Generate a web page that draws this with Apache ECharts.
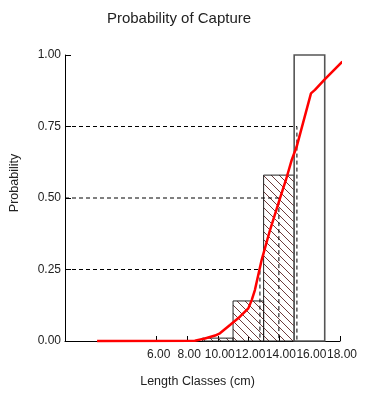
<!DOCTYPE html>
<html>
<head>
<meta charset="utf-8">
<script src="https://cdn.jsdelivr.net/npm/echarts@6/dist/echarts.min.js"></script>
<style>html,body{margin:0;padding:0;background:#fff;}#c{width:367px;height:396px;}</style>
</head>
<body>
<div id="c"></div>
<script>
// Length classes (cm) - histogram bars
var classStart = [9, 11, 13, 15];
var classEnd = [11, 13, 15, 17];
var classProb = [0.01, 0.14, 0.58, 1.00];
var classHatched = [true, true, true, false];

// Probability of capture curve
var curveX = [2.1, 8.5, 9.16, 9.82, 10.14, 10.8, 11.45, 12.0, 12.22, 12.43, 12.87, 13.42, 14.07, 14.46, 14.84, 15.16, 16.1, 16.36, 17.0, 18.15];
var curveP = [0, 0.001, 0.009, 0.019, 0.027, 0.056, 0.085, 0.114, 0.143, 0.178, 0.283, 0.388, 0.499, 0.563, 0.633, 0.679, 0.866, 0.878, 0.915, 0.977];

// L25, L50, L75 reference lines
var refP = [0.25, 0.50, 0.75];
var refL = [12.76, 14.0, 15.18];

var xTickLabels = [6, 8, 10, 12, 14, 16, 18];
var yTickLabels = [0, 0.25, 0.5, 0.75, 1.0];

var cv = document.createElement('canvas');
cv.width = 8; cv.height = 8;
var ctx = cv.getContext('2d');
ctx.strokeStyle = '#6e3c3c';
ctx.lineWidth = 1;
ctx.beginPath();
ctx.moveTo(-1, -1); ctx.lineTo(9, 9);
ctx.stroke();
var hatch = {image: cv, repeat: 'repeat'};

var barData = classStart.map(function (s, i) { return [s, classEnd[i], classProb[i], classHatched[i] ? 1 : 0]; });

var refSeries = refP.map(function (p, i) {
  return {
    type: 'line', silent: true, symbol: 'none', animation: false,
    data: [[0, p], [refL[i], p], [refL[i], 0]],
    lineStyle: {color: '#000', width: 1, type: [4, 3]}
  };
});

var curveData = curveX.map(function (x, i) { return [x, curveP[i]]; });

var chart = echarts.init(document.getElementById('c'));
chart.setOption({
  animation: false,
  title: {
    text: 'Probability of Capture', left: 174, top: 6, textAlign: 'center',
    textStyle: {fontFamily: 'Liberation Sans', fontSize: 15, fontWeight: 'normal', color: '#222'}
  },
  grid: {left: 65, right: 27, top: 55, bottom: 55},
  xAxis: {
    type: 'value', min: 0, max: 18, interval: 2,
    name: 'Length Classes (cm)', nameLocation: 'middle', nameGap: 34,
    nameTextStyle: {fontFamily: 'Liberation Sans', fontSize: 12.5, color: '#222', padding: [0, 10, 0, 0]},
    axisLine: {lineStyle: {color: '#000', width: 1}},
    axisTick: {inside: true, length: 5, lineStyle: {color: '#000'}, customValues: xTickLabels},
    axisLabel: {customValues: xTickLabels, formatter: function (v) { return v.toFixed(2); },
      fontFamily: 'Liberation Sans', fontSize: 12, color: '#222', margin: 8, padding: [0, 0, 0, 4]},
    splitLine: {show: false}
  },
  yAxis: {
    type: 'value', min: 0, max: 1, interval: 0.25,
    name: 'Probability', nameLocation: 'middle', nameGap: 44, nameRotate: 90,
    nameTextStyle: {fontFamily: 'Liberation Sans', fontSize: 12.5, color: '#222', padding: [0, 0, 0, 30]},
    axisLine: {show: true, lineStyle: {color: '#000', width: 1}},
    axisTick: {show: true, inside: true, length: 6, lineStyle: {color: '#000'}},
    axisLabel: {formatter: function (v) { return v.toFixed(2); },
      fontFamily: 'Liberation Sans', fontSize: 12, color: '#222', margin: 4},
    splitLine: {show: false}
  },
  series: [{
    type: 'custom', silent: true,
    data: barData,
    encode: {x: [0, 1], y: 2},
    renderItem: function (params, api) {
      var p0 = api.coord([api.value(0), api.value(2)]);
      var p1 = api.coord([api.value(1), 0]);
      var h = api.value(3) === 1;
      return {
        type: 'rect',
        shape: {x: p0[0], y: p0[1], width: p1[0] - p0[0], height: p1[1] - p0[1]},
        style: {fill: h ? hatch : '#fff', stroke: h ? '#222' : '#555', lineWidth: h ? 1 : 1.6}
      };
    }
  }].concat(refSeries).concat([{
    type: 'line', silent: true, symbol: 'none', clip: false,
    data: curveData,
    lineStyle: {color: '#ff0000', width: 2.5}
  }])
});
</script>
</body>
</html>
